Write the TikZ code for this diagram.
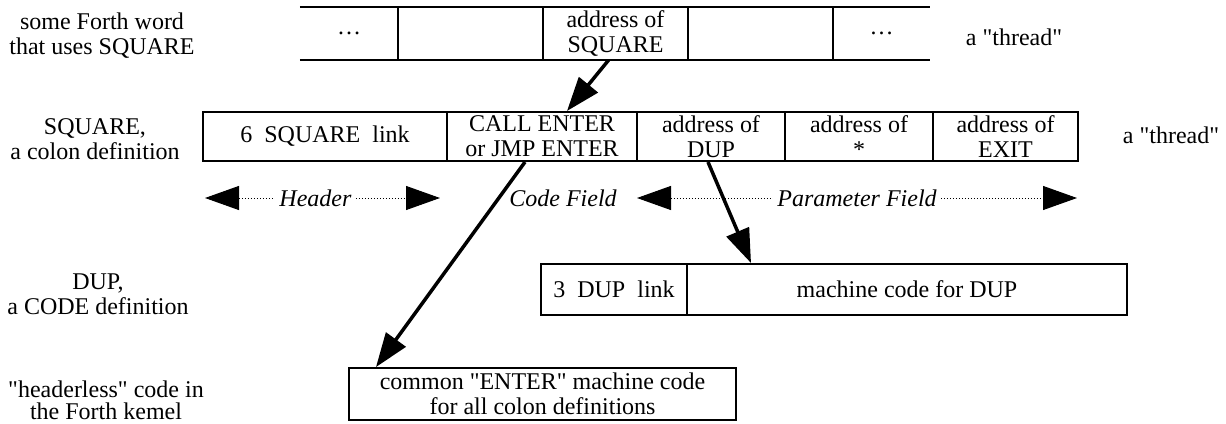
\documentclass[tikz,border=0pt]{standalone}
\usepackage{fontspec}
\setmainfont{Liberation Serif}
\usetikzlibrary{arrows.meta}

\newcommand{\qd}{\textquotedbl}

\tikzset{
	bigarrow/.style={line width=3.5pt, -{Triangle[length=34pt,width=24pt]}},
	fieldarrow/.style={dotted, line width=1pt,
		{Triangle[length=34pt,width=24pt]}-{Triangle[length=34pt,width=24pt]}},
	fieldlabel/.style={fill=white, inner sep=4pt, font=\fontsize{24}{25}\selectfont\itshape},
}

\begin{document}
\begin{tikzpicture}[x=1pt, y=-1pt, font=\fontsize{24}{25}\selectfont]
	\useasboundingbox (0,0) rectangle (1226,423);

	% the thread of some word that uses SQUARE
	\begin{scope}[every node/.style={inner sep=0pt, align=center, minimum height=53pt}]
	\node[minimum width=98pt]  (t1) at (349,   33.5) {\ldots};
	\node[minimum width=145pt] (t2) at (470.5, 33.5) {};
	\node[minimum width=145pt] (t3) at (615.5, 33.5) {address of\\SQUARE};
	\node[minimum width=145pt] (t4) at (760.5, 33.5) {};
	\node[minimum width=97pt]  (t5) at (881.5, 33.5) {\ldots};
	\end{scope}

	\draw[line width=2pt] (t1.north west) -- (t5.north east);
	\draw[line width=2pt] (t1.south west) -- (t5.south east);
	\foreach \c in {t2,t3,t4,t5}
		\draw[line width=2pt] (\c.north west) -- (\c.south west);

	% SQUARE, DUP and ENTER
	\begin{scope}[every node/.style={draw, line width=2pt, inner sep=0pt, align=center}]
	\node[minimum width=244pt, minimum height=49pt] (s1) at (325,    136.5) {6~~SQUARE~~link};
	\node[minimum width=190pt, minimum height=49pt] (s2) at (542,    136.5) {CALL ENTER\\or JMP ENTER};
	\node[minimum width=148pt, minimum height=49pt] (s3) at (711,    136.5) {address of\\DUP};
	\node[minimum width=148pt, minimum height=49pt] (s4) at (859,    136.5) {address of\\*};
	\node[minimum width=145pt, minimum height=49pt] (s5) at (1005.5, 136.5) {address of\\EXIT};

	\node[minimum width=146pt, minimum height=51pt] (d1) at (614, 289.5) {3~~DUP~~link};
	\node[minimum width=440pt, minimum height=51pt] (d2) at (907, 289.5) {machine code for DUP};

	\node[minimum width=387pt, minimum height=52pt] (e1) at (542.5, 394)
		{common \qd ENTER\qd\ machine code\\for all colon definitions};
	\end{scope}

	% labels
	\begin{scope}[every node/.style={align=center, inner sep=0pt}]
	\node (lf1) at (102, 36)  {some Forth word\\that uses SQUARE};
	\node (lf2) at (95,  139) {SQUARE,\\a colon definition};
	\node (lf3) at (98,  294) {DUP,\\a CODE definition};
	\node[font=\fontsize{24}{22}\selectfont] (lf4) at (106, 400) {\qd headerless\qd\ code in\\the Forth kemel};
	\node (th1) at (1014, 37)  {a \qd thread\qd};
	\node (th2) at (1171, 135) {a \qd thread\qd};
	\end{scope}

	% fields
	\coordinate (hdrL) at (205, 198);
	\coordinate (hdrR) at (440, 198);
	\coordinate (parL) at (637, 198);
	\coordinate (parR) at (1077, 198);

	\draw[fieldarrow] (hdrL) -- node[fieldlabel, pos=0.47] (hdr) {Header} (hdrR);
	\node[font=\fontsize{24}{25}\selectfont\itshape] (cf) at (563, 198) {Code Field};
	\draw[fieldarrow] (parL) -- node[fieldlabel] (par) {Parameter Field} (parR);

	\draw[bigarrow] ([xshift=-7pt]t3.south) -- ([xshift=25pt]s2.north);
	\draw[bigarrow] ([xshift=-17pt]s2.south) -- ([xshift=28pt]e1.north west);
	\draw[bigarrow] ([xshift=-3pt]s3.south) -- ([xshift=63pt]d1.north east);

\end{tikzpicture}
\end{document}
